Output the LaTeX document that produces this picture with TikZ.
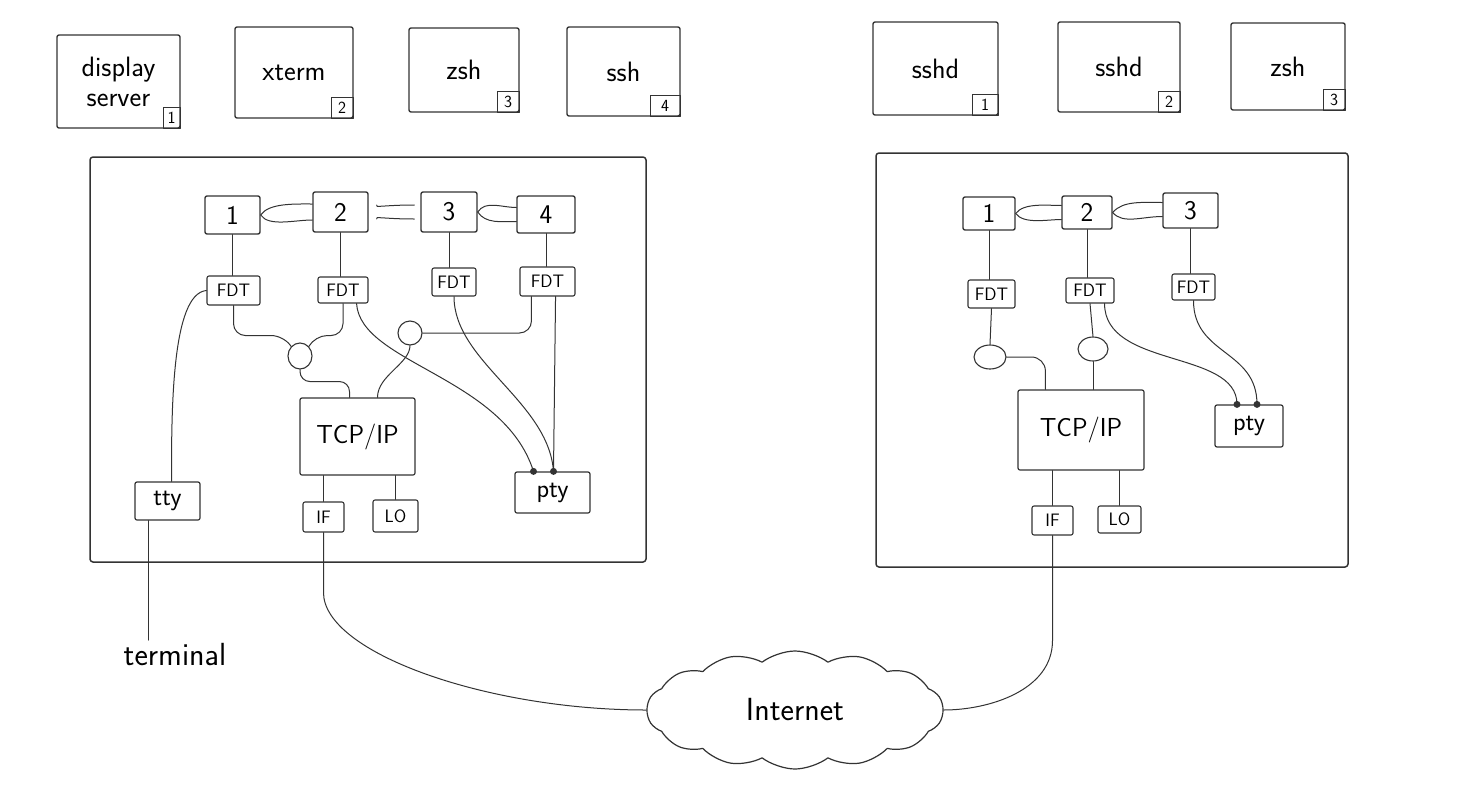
\documentclass[tikz,border=0pt]{standalone}
\usetikzlibrary{calc,positioning,shapes.symbols,shapes.geometric}

\begin{document}
\begin{tikzpicture}[
		x=1pt, y=-1pt,
		line join=round,
		line cap=round,
		font=\sffamily,
		ink/.style={draw=black!80},
		box/.style={ink, line width=1.4pt, rounded corners=2pt, inner sep=0pt},
		proc/.style={box, align=center, font=\sffamily\fontsize{28}{30}\selectfont},
		tag/.style={ink, line width=1.1pt, inner sep=0pt, minimum width=22pt, minimum height=21pt, font=\sffamily\fontsize{17}{17}\selectfont},
		numbox/.style={box, font=\sffamily\fontsize{27}{27}\selectfont},
		fdt/.style={box, line width=1.1pt, font=\sffamily\fontsize{18}{18}\selectfont},
		dev/.style={box, line width=1.2pt, font=\sffamily\fontsize{26}{26}\selectfont},
		sock/.style={ellipse, ink, line width=1.1pt, inner sep=0pt},
		link/.style={black!80, line width=1pt},
		frame/.style={black!80, line width=1.5pt, rounded corners=3pt},
		dot/.style={circle, fill=black!80, inner sep=0pt, minimum size=7pt}
	]
	
	\useasboundingbox (0,0) rectangle (1468,793);
	
	% Processes, left host
	\node[proc, minimum width=123pt, minimum height=93pt] (ds) at (118.5,81.5) {display\\server};
	\node[proc, minimum width=118pt, minimum height=91pt] (xt) at (294,72.5) {xterm};
	\node[proc, minimum width=110pt, minimum height=84pt] (zs) at (464,70) {zsh};
	\node[proc, minimum width=113pt, minimum height=89pt] (sc) at (623.5,71.5) {ssh};
	\node[tag, anchor=south east, minimum width=17pt] (ds-n) at (ds.south east) {1};
	\node[tag, anchor=south east] (xt-n) at (xt.south east) {2};
	\node[tag, anchor=south east] (zs-n) at (zs.south east) {3};
	\node[tag, anchor=south east, minimum width=30pt] (sc-n) at (sc.south east) {4};
	
	% Processes, right host
	\node[proc, minimum width=125pt, minimum height=93pt] (sd1) at (935.5,68.5) {sshd};
	\node[proc, minimum width=122pt, minimum height=90pt] (sd2) at (1119,67) {sshd};
	\node[proc, minimum width=114pt, minimum height=87pt] (zr) at (1288,66.5) {zsh};
	\node[tag, anchor=south east, minimum width=26pt] (sd1-n) at (sd1.south east) {1};
	\node[tag, anchor=south east] (sd2-n) at (sd2.south east) {2};
	\node[tag, anchor=south east] (zr-n) at (zr.south east) {3};
	
	% Host frames
	\draw[frame] (90,157) rectangle (646,562);
	\draw[frame] (876,153) rectangle (1348,567);
	
	% Left host, kernel side
	\node[numbox, minimum width=55pt, minimum height=38pt] (l1) at (232.5,215) {1};
	\node[numbox, minimum width=55pt, minimum height=40pt] (l2) at (340.5,212) {2};
	\node[numbox, minimum width=56pt, minimum height=40pt] (l3) at (449,212) {3};
	\node[numbox, minimum width=58pt, minimum height=37pt] (l4) at (546,214.5) {4};
	\node[fdt, minimum width=53pt, minimum height=29pt] (lf1) at (233.5,290.5) {FDT};
	\node[fdt, minimum width=50pt, minimum height=26pt] (lf2) at (343,290) {FDT};
	\node[fdt, minimum width=44pt, minimum height=28pt] (lf3) at (454,282) {FDT};
	\node[fdt, minimum width=55pt, minimum height=29pt] (lf4) at (547.5,281.5) {FDT};
	\node[sock, minimum width=24pt, minimum height=26pt] (la) at (300,356) {};
	\node[sock, minimum width=24pt, minimum height=24pt] (lb) at (410,333) {};
	\node[dev, minimum width=115pt, minimum height=77pt] (ltcp) at (357.5,436.5) {TCP/IP};
	\node[dev, minimum width=65pt, minimum height=38pt] (ltty) at (167.5,501) {tty};
	\node[fdt, minimum width=41pt, minimum height=30pt] (lif) at (323.5,517) {IF};
	\node[fdt, minimum width=45pt, minimum height=32pt] (llo) at (395.5,516) {LO};
	\node[dev, minimum width=75pt, minimum height=41pt] (lpty) at (552.5,492.5) {pty};
	\node[dot] (ld1) at ($(lpty.north)+(-19,0)$) {};
	\node[dot] (ld2) at ($(lpty.north)+(1,0)$) {};
	\coordinate (ttyfoot) at ($(ltty.south west)+(14,0)$);
	
	% Right host, kernel side
	\node[numbox, minimum width=52pt, minimum height=33pt] (r1) at (989,213.5) {1};
	\node[numbox, minimum width=50pt, minimum height=33pt] (r2) at (1087,212.5) {2};
	\node[numbox, minimum width=55pt, minimum height=35pt] (r3) at (1190.5,210.5) {3};
	\node[fdt, minimum width=47pt, minimum height=28pt] (rf1) at (991.5,294) {FDT};
	\node[fdt, minimum width=48pt, minimum height=25pt] (rf2) at (1090,290.5) {FDT};
	\node[fdt, minimum width=43pt, minimum height=26pt] (rf3) at (1193.5,287) {FDT};
	\node[sock, minimum width=32pt, minimum height=24pt] (rc) at (990,357) {};
	\node[sock, minimum width=30pt, minimum height=24pt] (rd) at (1093,349) {};
	\node[dev, minimum width=126pt, minimum height=80pt] (rtcp) at (1081,430) {TCP/IP};
	\node[dev, minimum width=68pt, minimum height=42pt] (rpty) at (1249,426) {pty};
	\node[fdt, minimum width=41pt, minimum height=29pt] (rif) at (1052.5,520.5) {IF};
	\node[fdt, minimum width=43pt, minimum height=27pt] (rlo) at (1119.5,519.5) {LO};
	\node[dot] (rd1) at ($(rpty.north)+(-12,0)$) {};
	\node[dot] (rd2) at ($(rpty.north)+(8,0)$) {};
	
	% Outside
	\node[font=\sffamily\fontsize{32}{32}\selectfont] (term) at (175,655) {terminal};
	\node[cloud, ink, line width=1.2pt, cloud puffs=14, cloud puff arc=75, aspect=2.5,
		minimum width=296pt, minimum height=118pt,
		font=\sffamily\fontsize{32}{32}\selectfont] (net) at (795,710) {Internet};
	
	% Process chains
	\draw[link] (l1.east) .. controls +(8,-12) and +(-18,0) .. ($(l2.west)+(0,-8)$);
	\draw[link] (l1.east) .. controls +(8,12) and +(-18,0) .. ($(l2.west)+(0,8)$);
	\draw[link] ($(l2.east)+(8,-7)$) .. controls +(-3,3) and +(-30,0) .. ($(l3.west)+(-6,-7)$);
	\draw[link] ($(l2.east)+(8,7)$) .. controls +(-3,-3) and +(-30,0) .. ($(l3.west)+(-6,7)$);
	\draw[link] (l3.east) .. controls +(8,-12) and +(-15,0) .. ($(l4.west)+(0,-7)$);
	\draw[link] (l3.east) .. controls +(8,12) and +(-15,0) .. ($(l4.west)+(0,7)$);
	\draw[link] (r1.east) .. controls +(8,-11) and +(-14,0) .. ($(r2.west)+(0,-7)$);
	\draw[link] (r1.east) .. controls +(8,11) and +(-14,0) .. ($(r2.west)+(0,7)$);
	\draw[link] (r2.east) .. controls +(10,-12) and +(-20,0) .. ($(r3.west)+(0,-8)$);
	\draw[link] (r2.east) .. controls +(10,12) and +(-20,0) .. ($(r3.west)+(0,6)$);
	
	% Descriptor tables
	\foreach \p/\f in {l1/lf1,l2/lf2,l3/lf3,l4/lf4,r1/rf1,r2/rf2,r3/rf3} {
		\draw[link] (\p.south) -- (\p.south |- \f.north);
	}
	
	% Left host wiring
	\draw[link] (lf1.west) .. controls +(-35,3) and +(0,-70) .. ($(ltty.north)+(4,0)$);
	\draw[link, rounded corners=12pt] (lf1.south) |- ++(50,30) -- (la.north west);
	\draw[link, rounded corners=12pt] (lf2.south) |- ++(-28,32) -- (la.north east);
	\draw[link, rounded corners=10pt] (la.south) -- ++(0,12) -| ($(ltcp.north)+(-8,0)$);
	\draw[link, rounded corners=12pt] ($(lf4.south west)+(12,0)$) |- (lb.east);
	\draw[link] (lb.south) .. controls +(0,18) and +(0,-22) .. ($(ltcp.north)+(20,0)$);
	\draw[link] ($(lf2.south east)+(-12,0)$) .. controls +(4,60) and +(-30,-95) .. (ld1.center);
	\draw[link] (lf3.south) .. controls +(0,65) and +(-5,-70) .. (ld2.center);
	\draw[link] ($(lf4.south east)+(-20,0)$) -- (ld2.center);
	\draw[link] (lif.north) -- (lif.north |- ltcp.south);
	\draw[link] (llo.north) -- (llo.north |- ltcp.south);
	\draw[link] (ttyfoot) -- (ttyfoot |- term.north);
	\draw[link] (lif.south) -- ++(0,60) .. controls +(0,60) and +(-160,0) .. (net.west);
	
	% Right host wiring
	\draw[link] (rf1.south) -- (rc.north);
	\draw[link, rounded corners=14pt] (rc.east) -| ($(rtcp.north west)+(28,0)$);
	\draw[link] (rf2.south) -- (rd.north);
	\draw[link] (rd.south) -- (rd.south |- rtcp.north);
	\draw[link] ($(rf2.south east)+(-10,0)$) .. controls +(0,65) and +(0,-55) .. (rd1.center);
	\draw[link] (rf3.south) .. controls +(0,55) and +(0,-55) .. (rd2.center);
	\draw[link] (rif.north) -- (rif.north |- rtcp.south);
	\draw[link] (rlo.north) -- (rlo.north |- rtcp.south);
	\draw[link] (rif.south) -- ++(0,105) .. controls +(0,50) and +(45,0) .. (net.east);
	
\end{tikzpicture}
\end{document}
